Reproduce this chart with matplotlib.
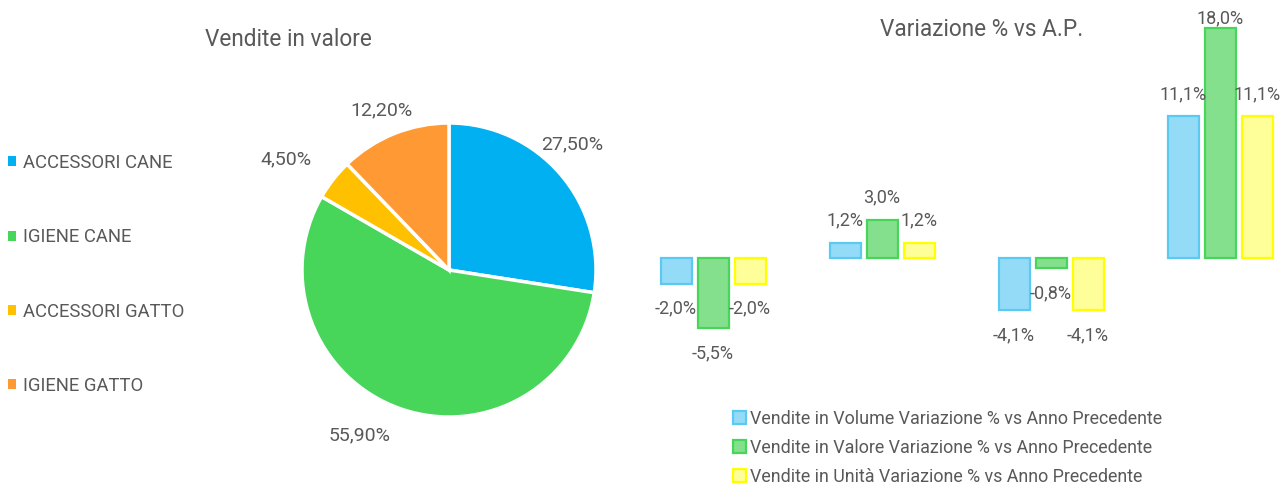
import matplotlib
matplotlib.use("Agg")
import matplotlib.pyplot as plt
import numpy as np

plt.rcParams['font.family'] = ['Roboto', 'DejaVu Sans']

# ---- data ----
pie_categories = ["ACCESSORI CANE", "IGIENE CANE", "ACCESSORI GATTO", "IGIENE GATTO"]
pie_values = [27.5, 55.9, 4.5, 12.2]
pie_labels = ["27,50%", "55,90%", "4,50%", "12,20%"]
pie_colors = ["#00B0F0", "#47D65A", "#FFC000", "#FF9933"]

series_names = ["Vendite in Volume Variazione % vs Anno Precedente",
                "Vendite in Valore Variazione % vs Anno Precedente",
                "Vendite in Unità Variazione % vs Anno Precedente"]
volume = [-2.0, 1.2, -4.1, 11.1]
valore = [-5.5, 3.0, -0.8, 18.0]
unita = [-2.0, 1.2, -4.1, 11.1]
bar_fill = ["#94DBF7", "#85E08D", "#FFFF99"]
bar_edge = ["#5BC9F2", "#47D65A", "#FFFF00"]

TXT = "#595959"
W, H = 1281, 484
fig = plt.figure(figsize=(W / 100, H / 100), dpi=100)

def px_axes(left, top, right, bottom):
    return fig.add_axes([left / W, 1 - bottom / H, (right - left) / W, (bottom - top) / H])

# ---- pie ----
cx, cy, r = 449, 270, 147
half = 200
axp = px_axes(cx - half, cy - half, cx + half, cy + half)
wedges, _ = axp.pie(pie_values, colors=pie_colors, startangle=90, counterclock=False,
                    radius=1, wedgeprops=dict(edgecolor="white", linewidth=2.5))
axp.set_xlim(-half / r, half / r)
axp.set_ylim(-half / r, half / r)
axp.set_aspect("equal")
axp.axis("off")
dists = [1.2, 1.28, 1.34, 1.18]
angle_shift = [5, -9, 4, 1]
for w, lab, d, s in zip(wedges, pie_labels, dists, angle_shift):
    ang = np.deg2rad((w.theta1 + w.theta2) / 2 + s)
    axp.text(d * np.cos(ang), d * np.sin(ang), lab, ha="center", va="center",
             fontsize=14, color=TXT, clip_on=False)

fig.text(288 / W, 1 - 40 / H, "Vendite in valore", ha="center", va="center",
         fontsize=16.3, color=TXT)

leg1 = fig.legend(wedges, pie_categories, loc="upper left",
                  bbox_to_anchor=(8 / W, 1 - 154 / H), frameon=False,
                  fontsize=13.3, labelcolor=TXT, handlelength=0.45, handleheight=0.45,
                  handletextpad=0.35, labelspacing=3.05, borderpad=0, borderaxespad=0)
for h in leg1.legend_handles:
    h.set_edgecolor("none")

# ---- bars ----
x0, step = 713, 169
axb = px_axes(640, 0, W, H)
zero_px, per = 258, 12.8
axb.set_xlim((640 - x0) / step, (W - x0) / step)
axb.set_ylim(-(H - zero_px) / per, zero_px / per)
axb.axis("off")
x = np.arange(len(volume))
off = 37 / step
bw = 31 / step
bars = []
for i, vals in enumerate([volume, valore, unita]):
    b = axb.bar(x + (i - 1) * off, vals, width=bw, color=bar_fill[i],
                edgecolor=bar_edge[i], linewidth=1.6, label=series_names[i])
    bars.append(b)
    for xi, v in zip(x + (i - 1) * off, vals):
        lab = f"{v:.1f}%".replace(".", ",")
        if v >= 0:
            yy = v + 22 / per
            yy = min(yy, (zero_px - 18) / per)
        else:
            yy = v - 25 / per
        axb.text(xi, yy, lab, ha="center", va="center", fontsize=13, color=TXT)

fig.text(982 / W, 1 - 30 / H, "Variazione % vs A.P.", ha="center", va="center",
         fontsize=16.3, color=TXT)

fig.legend(handles=bars, labels=series_names, loc="upper left",
           bbox_to_anchor=(733 / W, 1 - 410 / H), frameon=False,
           fontsize=12.9, labelcolor=TXT, handlelength=0.7, handleheight=0.7,
           handletextpad=0.25, labelspacing=0.6, borderpad=0, borderaxespad=0)

fig.savefig("out.png", dpi=100, facecolor="white")
